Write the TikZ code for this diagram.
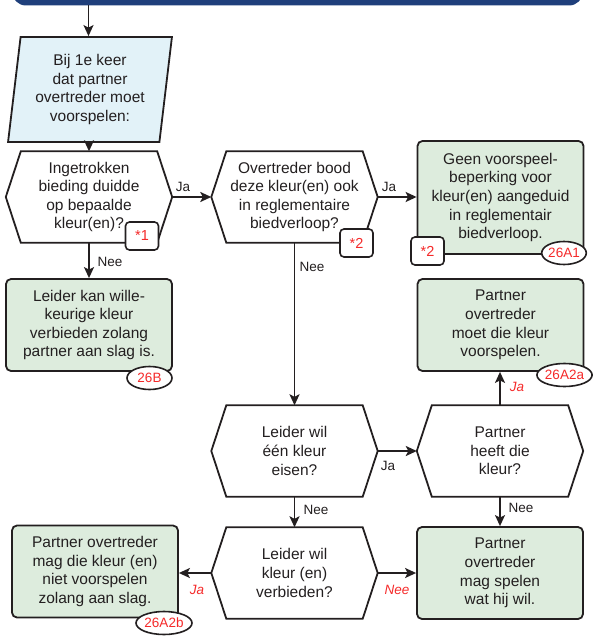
\documentclass[tikz,border=0pt]{standalone}
\usepackage{fontspec}
\setmainfont{Liberation Sans}
\usetikzlibrary{arrows.meta,shapes.geometric}

\definecolor{bandblue}{HTML}{1F3F7B}
\definecolor{okgreen}{HTML}{DDECDD}
\definecolor{startblue}{HTML}{E2F2F8}
\definecolor{refred}{HTML}{F52A2A}
\definecolor{ink}{HTML}{231F20}

\tikzset{
  txt/.style={font=\fontsize{15.5}{18.6}\selectfont, text=ink, align=center, inner sep=0pt},
  hexa/.style={txt, minimum width=166pt, minimum height=91pt},
  okbox/.style={txt, draw=ink, fill=okgreen, line width=1.8pt, rounded corners=5pt,
    minimum width=166pt, minimum height=92pt},
  note/.style={draw=ink, fill=white, line width=1.6pt, rounded corners=4pt,
    minimum width=33pt, minimum height=28pt, inner sep=0pt,
    text=refred, font=\fontsize{14.5}{14.5}\selectfont},
  artref/.style={ellipse, draw=ink, fill=white, line width=1.6pt, minimum height=23pt,
    inner sep=0pt, text=refred, font=\fontsize{13.5}{13.5}\selectfont},
  flow/.style={-{Stealth[length=11pt,width=10pt,inset=2.5pt]}, line width=1.8pt, draw=ink},
  lbl/.style={inner sep=0pt, text=ink, font=\fontsize{13.5}{13.5}\selectfont},
  redlbl/.style={lbl, text=refred, font=\fontsize{13.5}{13.5}\selectfont\itshape}
}

\begin{document}
\begin{tikzpicture}[x=1pt,y=-1pt]
\useasboundingbox (0,0) rectangle (592,636);

% header band (cut off at the top)
\begin{scope}
  \clip (0,0) rectangle (592,636);
  \fill[bandblue, rounded corners=14pt] (12,-30) rectangle (583,5.5);
\end{scope}
\coordinate (band) at (88.5,5.5);

% start
\node[txt, trapezium, trapezium left angle=82, trapezium right angle=98,
  trapezium stretches=true, draw=ink, fill=startblue, line width=1.8pt,
  minimum width=164pt, minimum height=105pt] (start) at (90,89.5)
  {Bij 1e keer\\dat partner\\overtreder moet\\voorspelen:};

% questions
\node[hexa] (q1) at (89,197) {Ingetrokken\\bieding duidde\\op bepaalde\\kleur(en)?};
\node[hexa] (q2) at (294.5,197) {Overtreder bood\\deze kleur(en) ook\\in reglementaire\\biedverloop?};
\node[hexa] (q3) at (294.5,451) {Leider wil\\één kleur\\eisen?};
\node[hexa] (q4) at (500,451) {Partner\\heeft die\\kleur?};
\node[hexa] (q5) at (294.5,573) {Leider wil\\kleur (en)\\verbieden?};
\foreach \q in {q1,q2,q3,q4,q5}
  \draw[line width=1.8pt, draw=ink] (\q.west) -- ([xshift=15pt]\q.north west)
    -- ([xshift=-15pt]\q.north east) -- (\q.east)
    -- ([xshift=-15pt]\q.south east) -- ([xshift=15pt]\q.south west) -- cycle;

% outcomes
\node[okbox, minimum height=113pt] (r1) at (500.5,197.5)
  {Geen voorspeel-\\beperking voor\\kleur(en) aangeduid\\in reglementair\\biedverloop.};
\node[okbox] (r2) at (89,325) {Leider kan wille-\\keurige kleur\\verbieden zolang\\partner aan slag is.};
\node[okbox] (r3) at (500.5,325) {Partner\\overtreder\\moet die kleur\\voorspelen.};
\node[okbox] (r4) at (95,571.5) {Partner overtreder\\mag die kleur (en)\\niet voorspelen\\zolang aan slag.};
\node[okbox] (r5) at (500,573) {Partner\\overtreder\\mag spelen\\wat hij wil.};

% footnote marks and article numbers
\node[note] (n1) at (142,236) {*1};
\node[note] (n2) at (356.5,243) {*2};
\node[note] (n3) at (427.5,251) {*2};
\node[artref, minimum width=42pt] (a1) at (564,253) {26A1};
\node[artref, minimum width=45pt] (a2) at (149.5,378) {26B};
\node[artref, minimum width=55pt] (a3) at (564.5,375) {26A2a};
\node[artref, minimum width=56pt] (a4) at (164,623) {26A2b};

% connectors
\draw[flow] (band) -- (band |- start.north);
\draw[flow] (q1.north |- start.south) -- (q1.north);
\draw[flow] (q1.east) -- (q2.west);
\draw[flow] (q2.east) -- (q2.east -| r1.west);
\draw[flow] (q1.south) -- (r2.north);
\draw[flow] (q2.south) -- (q3.north);
\draw[flow] (q3.east) -- (q4.west);
\draw[flow] (q4.north) -- (q4.north |- r3.south);
\draw[flow] (q3.south) -- (q5.north);
\draw[flow] (q4.south) -- (q4.south |- r5.north);
\draw[flow] (q5.west) -- (q5.west -| r4.east);
\draw[flow] (q5.east) -- (q5.east -| r5.west);

% answers
\node[lbl] (ja1) at (183,187) {Ja};
\node[lbl] (ja2) at (389,187) {Ja};
\node[lbl] (nee1) at (110,262) {Nee};
\node[lbl] (nee2) at (312,267) {Nee};
\node[redlbl] (ja3) at (517,387) {Ja};
\node[lbl] (ja4) at (388,466) {Ja};
\node[lbl] (nee3) at (316,510) {Nee};
\node[lbl] (nee4) at (521,508) {Nee};
\node[redlbl] (ja5) at (197,590) {Ja};
\node[redlbl] (nee5) at (397,590) {Nee};
\end{tikzpicture}
\end{document}
